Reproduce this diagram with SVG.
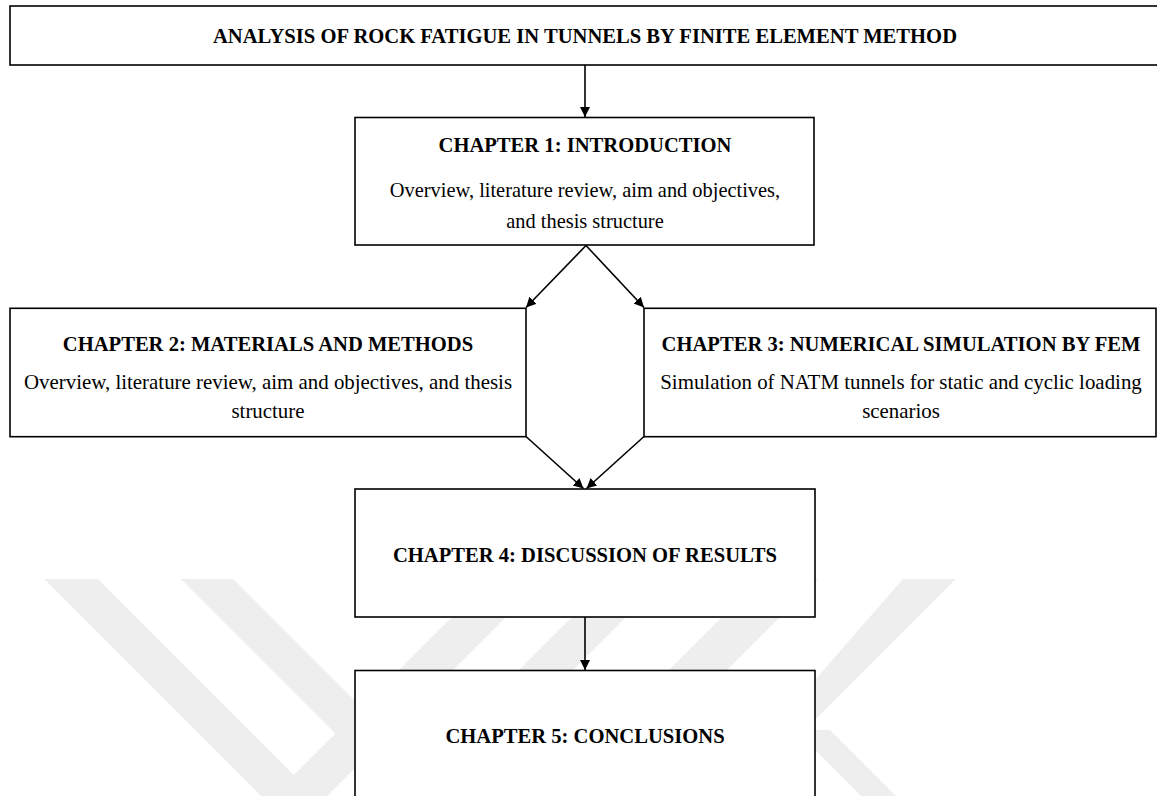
<svg xmlns="http://www.w3.org/2000/svg" width="1157" height="796" viewBox="0 0 1157 796">
<defs>
<marker id="ah" markerUnits="userSpaceOnUse" markerWidth="11" markerHeight="11" refX="10" refY="5" orient="auto">
<path d="M0,0 L10,5 L0,10 z" fill="#000"/>
</marker>
</defs>
<style>
.box{fill:#fff;stroke:#000;stroke-width:1.6}
.h{font-family:"Liberation Serif","Times New Roman",serif;font-weight:bold;font-size:20.6px;fill:#000;text-anchor:middle}
.t{font-family:"Liberation Serif","Times New Roman",serif;font-size:20.4px;fill:#000;text-anchor:middle}
.t2{font-family:"Liberation Serif","Times New Roman",serif;font-size:20.9px;fill:#000;text-anchor:middle}
.wm{fill:#eeeeee}
.c{stroke:#000;stroke-width:1.6;fill:none;marker-end:url(#ah)}
</style>
<rect width="1157" height="796" fill="#fff"/>
<g id="watermark">
<polygon class="wm" points="44,579 98,579 315,796 261,796"/>
<polygon class="wm" points="181,579 233,579 450,796 398,796"/>
<polygon class="wm" points="490,579 544,579 327,796 273,796"/>
<polygon class="wm" points="610,579 664,579 447,796 393,796"/>
<polygon class="wm" points="760,579 818,579 601,796 543,796"/>
<polygon class="wm" points="903,579 956,579 815,720 780,720"/>
<polygon class="wm" points="795,730 830,730 896,796 861,796"/>
</g>
<g id="connectors">
<line class="c" x1="585" y1="65" x2="585" y2="117"/>
<line class="c" x1="586" y1="245.5" x2="526" y2="307.5"/>
<line class="c" x1="586" y1="245.5" x2="644" y2="307.5"/>
<line class="c" x1="526" y1="436.5" x2="583.5" y2="488.5"/>
<line class="c" x1="644" y1="436.5" x2="586.5" y2="488.5"/>
<line class="c" x1="585" y1="617" x2="585" y2="670"/>
</g>
<g id="title">
<rect class="box" x="10" y="6" width="1149" height="59"/>
<text class="h" x="585" y="42.5">ANALYSIS OF ROCK FATIGUE IN TUNNELS BY FINITE ELEMENT METHOD</text>
</g>
<g id="ch1">
<rect class="box" x="355" y="117.5" width="459" height="127.5"/>
<text class="h" x="585" y="152.3">CHAPTER 1: INTRODUCTION</text>
<text class="t" x="585" y="196.7">Overview, literature review, aim and objectives,</text>
<text class="t" x="585" y="227.7">and thesis structure</text>
</g>
<g id="ch2">
<rect class="box" x="10" y="308.3" width="516" height="128.4"/>
<text class="h" x="268" y="351">CHAPTER 2: MATERIALS AND METHODS</text>
<text class="t2" x="268" y="388.5">Overview, literature review, aim and objectives, and thesis</text>
<text class="t2" x="268" y="418">structure</text>
</g>
<g id="ch3">
<rect class="box" x="644" y="308.3" width="512" height="128.4"/>
<text class="h" x="901" y="351">CHAPTER 3: NUMERICAL SIMULATION BY FEM</text>
<text class="t2" x="901" y="388.5">Simulation of NATM tunnels for static and cyclic loading</text>
<text class="t2" x="901" y="418">scenarios</text>
</g>
<g id="ch4">
<rect class="box" x="355" y="489" width="460" height="128"/>
<text class="h" x="585" y="561.5">CHAPTER 4: DISCUSSION OF RESULTS</text>
</g>
<g id="ch5">
<rect class="box" x="355" y="670.5" width="460" height="140"/>
<text class="h" x="585" y="743">CHAPTER 5: CONCLUSIONS</text>
</g>
</svg>
